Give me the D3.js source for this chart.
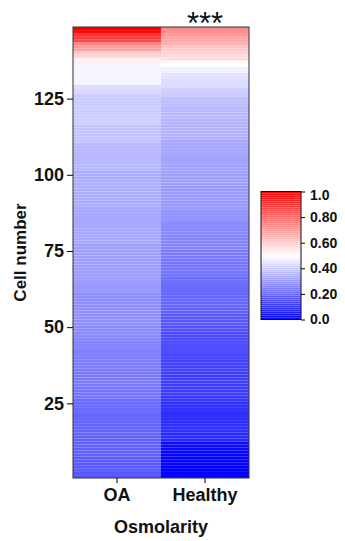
<!DOCTYPE html>
<html>
<head>
<meta charset="utf-8">
<script src="https://cdn.jsdelivr.net/npm/d3@7"></script>
<style>
  body { margin: 0; background: #fff; }
  text { font-family: "Liberation Sans", Arial, sans-serif; font-weight: bold; fill: #111; }
</style>
</head>
<body>
<svg id="chart" width="345" height="541"></svg>
<script>
// cell 1 (bottom) .. cell 148 (top), normalised osmolarity
var groups = ["OA", "Healthy"];

var oaValues = [
  0.17,0.17,0.18,0.18,0.18,0.18,0.18,0.19,0.19,0.19,
  0.19,0.19,0.19,0.19,0.20,0.20,0.20,0.20,0.20,0.20,
  0.20,0.21,0.21,0.21,0.21,0.21,
  0.23,0.23,0.23,0.23,0.24,0.24,0.24,0.24,0.24,0.24,0.25,0.25,0.25,0.25,0.25,0.25,
  0.26,0.26,0.26,0.27,0.27,0.27,0.27,0.27,
  0.28,0.28,0.28,0.28,0.28,0.28,0.28,0.28,0.28,0.28,0.28,
  0.30,0.30,0.30,0.31,0.31,0.31,0.31,0.31,0.31,0.31,0.31,0.31,0.31,0.31,0.31,0.31,
  0.33,0.33,0.33,0.33,0.33,0.33,0.33,0.33,0.33,0.33,0.33,0.33,
  0.34,0.34,0.34,0.34,0.34,0.34,0.34,0.34,0.34,0.34,0.34,0.34,
  0.36,0.36,0.36,0.36,0.36,0.36,0.36,0.36,0.36,
  0.38,0.38,0.38,0.38,0.38,0.38,
  0.40,0.40,0.40,0.40,0.40,0.40,0.40,0.40,0.40,0.40,
  0.43,0.43,0.43,
  0.48,0.48,0.48,0.48,0.48,0.48,0.48,
  0.53,0.53,
  0.59,0.60,
  0.68,0.70,0.74,
  0.86,0.88,0.90,0.98,1.00
];

var healthyValues = [
  0.00,0.00,0.00,0.00,0.01,0.01,0.01,0.01,0.01,0.02,0.02,0.02,
  0.08,0.08,0.08,0.09,0.09,0.09,0.09,0.09,0.09,0.09,0.10,0.10,0.10,
  0.11,0.11,0.12,0.12,0.12,0.12,0.12,0.12,0.12,0.12,0.13,0.13,0.13,0.13,
  0.14,0.14,0.15,0.15,0.15,0.15,0.15,0.15,0.15,0.16,0.16,
  0.17,0.17,0.17,0.17,
  0.19,0.19,0.20,0.20,0.20,0.20,0.20,0.20,0.21,0.21,
  0.22,0.22,0.23,0.23,0.23,0.23,0.23,0.23,0.24,0.24,0.24,
  0.26,0.26,0.26,0.26,0.26,0.27,0.27,0.27,0.27,
  0.29,0.29,0.29,0.29,0.30,0.30,0.30,0.30,0.30,0.30,0.30,0.30,0.31,0.31,0.31,0.31,
  0.32,0.32,0.32,0.32,0.32,0.32,0.33,0.33,0.33,0.33,0.33,
  0.35,0.35,0.35,0.35,0.35,0.35,0.35,0.36,0.36,0.36,0.36,0.37,0.37,0.37,
  0.40,0.40,0.41,
  0.43,0.43,0.43,0.44,0.44,
  0.47,0.47,
  0.50,0.51,
  0.56,0.57,0.59,0.60,0.62,
  0.66,0.67,0.68,0.70,0.72,0.73
];

var yTicks = [25, 50, 75, 100, 125];
var legendTicks = [0, 0.2, 0.4, 0.6, 0.8, 1.0];
var legendLabels = ["0.0", "0.20", "0.40", "0.60", "0.80", "1.0"];

var svg = d3.select("#chart");
var plotL = 73, plotR = 249, plotT = 27, plotB = 478;

var x = d3.scaleBand().domain(groups).range([plotL, plotR]);
var y = d3.scaleLinear().domain([0.5, oaValues.length + 0.5]).range([plotB, plotT]);
var color = d3.scaleLinear().domain([0, 0.5, 1]).range(["#0000ff", "#ffffff", "#ff0000"]);

var cells = [];
[oaValues, healthyValues].forEach(function(vals, gi) {
  vals.forEach(function(v, i) {
    cells.push({ group: groups[gi], cell: i + 1, value: v });
  });
});

svg.append("g").selectAll("rect")
   .data(cells)
   .enter().append("rect")
   .attr("x", function(d) { return x(d.group); })
   .attr("width", x.bandwidth())
   .attr("y", function(d) { return y(d.cell + 0.5); })
   .attr("height", function(d) { return y(d.cell - 0.5) - y(d.cell + 0.5); })
   .attr("fill", function(d) { return color(d.value); });

// frame
svg.append("rect")
   .attr("x", plotL).attr("y", plotT)
   .attr("width", plotR - plotL).attr("height", plotB - plotT)
   .attr("fill", "none").attr("stroke", "#333").attr("stroke-width", 1);

var yAxis = svg.append("g")
   .attr("transform", "translate(" + plotL + ",0)")
   .call(d3.axisLeft(y).tickValues(yTicks).tickSize(6).tickPadding(3));
yAxis.select(".domain").remove();
yAxis.selectAll("text").style("font-size", "18px");

var xAxis = svg.append("g")
   .attr("transform", "translate(0," + plotB + ")")
   .call(d3.axisBottom(x).tickSize(5).tickPadding(5));
xAxis.select(".domain").remove();
xAxis.selectAll("text").style("font-size", "18px");

svg.append("text")
   .attr("transform", "translate(26," + ((plotT + plotB) / 2) + ") rotate(-90)")
   .attr("text-anchor", "middle")
   .style("font-size", "17px")
   .text("Cell number");

svg.append("text")
   .attr("x", (plotL + plotR) / 2).attr("y", 533)
   .attr("text-anchor", "middle")
   .style("font-size", "18px")
   .text("Osmolarity");

svg.append("text")
   .attr("x", x("Healthy") + x.bandwidth() / 2).attr("y", 34)
   .attr("text-anchor", "middle")
   .style("font-size", "31px")
   .style("font-weight", "normal")
   .text("***");

// colour bar
var lx = 261, lw = 40;
var ly = d3.scaleLinear().domain([0, 1]).range([319.5, 191.5]);
var steps = d3.range(0, 64);
svg.append("g").selectAll("rect")
   .data(steps)
   .enter().append("rect")
   .attr("x", lx).attr("width", lw)
   .attr("y", function(s) { return ly((s + 1) / 64); })
   .attr("height", function(s) { return ly(s / 64) - ly((s + 1) / 64); })
   .attr("fill", function(s) { return color((s + 0.5) / 64); });
svg.append("rect")
   .attr("x", lx).attr("y", ly(1))
   .attr("width", lw).attr("height", ly(0) - ly(1))
   .attr("fill", "none").attr("stroke", "#111").attr("stroke-width", 1);

var lAxis = svg.append("g")
   .attr("transform", "translate(" + (lx + lw) + ",0)")
   .call(d3.axisRight(ly).tickValues(legendTicks)
           .tickFormat(function(d, i) { return legendLabels[i]; })
           .tickSize(4).tickPadding(5));
lAxis.select(".domain").remove();
lAxis.selectAll("text").style("font-size", "14px");
lAxis.selectAll("text").filter(function(d) { return d === 1; }).attr("dy", "0.6em");
</script>
</body>
</html>
